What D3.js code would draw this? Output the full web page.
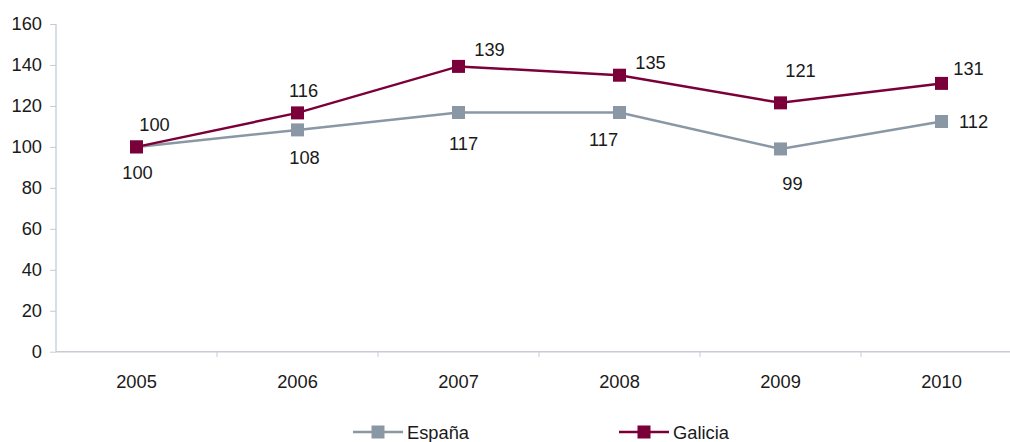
<!DOCTYPE html>
<html><head><meta charset="utf-8">
<script src="https://cdn.jsdelivr.net/npm/d3@7/dist/d3.min.js"></script>
<style>body{margin:0;background:#fff}svg{display:block}text{font-family:"Liberation Sans",Arial,sans-serif;fill:#1a1a1a}</style>
</head><body><svg id="c" width="1010" height="442"></svg>
<script>
const years = ["2005","2006","2007","2008","2009","2010"];
const espana = [100, 108.3, 116.8, 116.8, 99.0, 112.4];
const galicia = [100, 116.6, 139.3, 135.0, 121.5, 131.0];
const espanaLabels = ["100","108","117","117","99","112"];
const galiciaLabels = ["100","116","139","135","121","131"];
const yTicks = [0,20,40,60,80,100,120,140,160];
const seriesNames = ["España","Galicia"];

// label offsets (styling)
const galOff = [[18,-22],[6,-22],[31,-17],[31,-13],[20,-32],[27,-15]];
const espOff = [[1,26],[7,28],[5,31],[-16,27],[12,35],[32,0]];

const colEsp = "#8a97a5", colGal = "#7b0039", axisCol = "#c5ccd6";
const FS = 18.3;
const svg = d3.select("#c");
const x = d3.scaleBand().domain(years).range([56,1022]).padding(0);
const y = d3.scaleLinear().domain([0,160]).range([351.7,24]);
const cx = d => x(d) + x.bandwidth()/2;

// y axis
const ya = svg.append("g").attr("transform","translate(56,0)")
  .call(d3.axisLeft(y).tickValues(yTicks).tickSize(6).tickPadding(8));
ya.select(".domain").attr("stroke",axisCol).attr("stroke-width",1.3).attr("d","M0,24V351.7");
ya.selectAll(".tick line").attr("stroke",axisCol);
ya.selectAll(".tick text").attr("font-size",FS).attr("fill","#1a1a1a").attr("font-family","Liberation Sans, Arial, sans-serif");

// x axis
const xa = svg.append("g").attr("transform","translate(0,351.7)")
  .call(d3.axisBottom(x).tickSize(0).tickPadding(23));
xa.select(".domain").attr("stroke",axisCol).attr("stroke-width",1.5).attr("d","M56,0H1010");
xa.selectAll(".tick text").attr("font-size",FS).attr("fill","#1a1a1a").attr("font-family","Liberation Sans, Arial, sans-serif");
svg.append("g").selectAll("line").data(years.slice(1)).join("line")
  .attr("x1",d=>x(d)).attr("x2",d=>x(d)).attr("y1",351.7).attr("y2",357)
  .attr("stroke",axisCol).attr("stroke-width",1);

const line = d3.line().x((d,i)=>cx(years[i])).y(d=>y(d));
function drawSeries(vals, col, labels, off){
  svg.append("path").datum(vals).attr("d",line).attr("fill","none")
    .attr("stroke",col).attr("stroke-width",2.5);
  svg.append("g").selectAll("rect").data(vals).join("rect")
    .attr("x",(d,i)=>cx(years[i])-6.5).attr("y",d=>y(d)-6.5)
    .attr("width",13).attr("height",13).attr("fill",col);
  svg.append("g").selectAll("text").data(vals).join("text")
    .attr("x",(d,i)=>cx(years[i])+off[i][0]).attr("y",(d,i)=>y(d)+off[i][1])
    .attr("text-anchor","middle").attr("dominant-baseline","central")
    .attr("font-size",FS).text((d,i)=>labels[i]);
}
drawSeries(espana, colEsp, espanaLabels, espOff);
drawSeries(galicia, colGal, galiciaLabels, galOff);

// legend
const leg = [{name:seriesNames[0],col:colEsp,x0:353},{name:seriesNames[1],col:colGal,x0:619}];
const lg = svg.append("g");
leg.forEach(l=>{
  lg.append("line").attr("x1",l.x0).attr("x2",l.x0+50).attr("y1",432).attr("y2",432)
    .attr("stroke",l.col).attr("stroke-width",2.5);
  lg.append("rect").attr("x",l.x0+25-6.5).attr("y",432-6.5).attr("width",13).attr("height",13).attr("fill",l.col);
  lg.append("text").attr("x",l.x0+54).attr("y",432).attr("dominant-baseline","central")
    .attr("font-size",FS).text(l.name);
});
</script></body></html>
